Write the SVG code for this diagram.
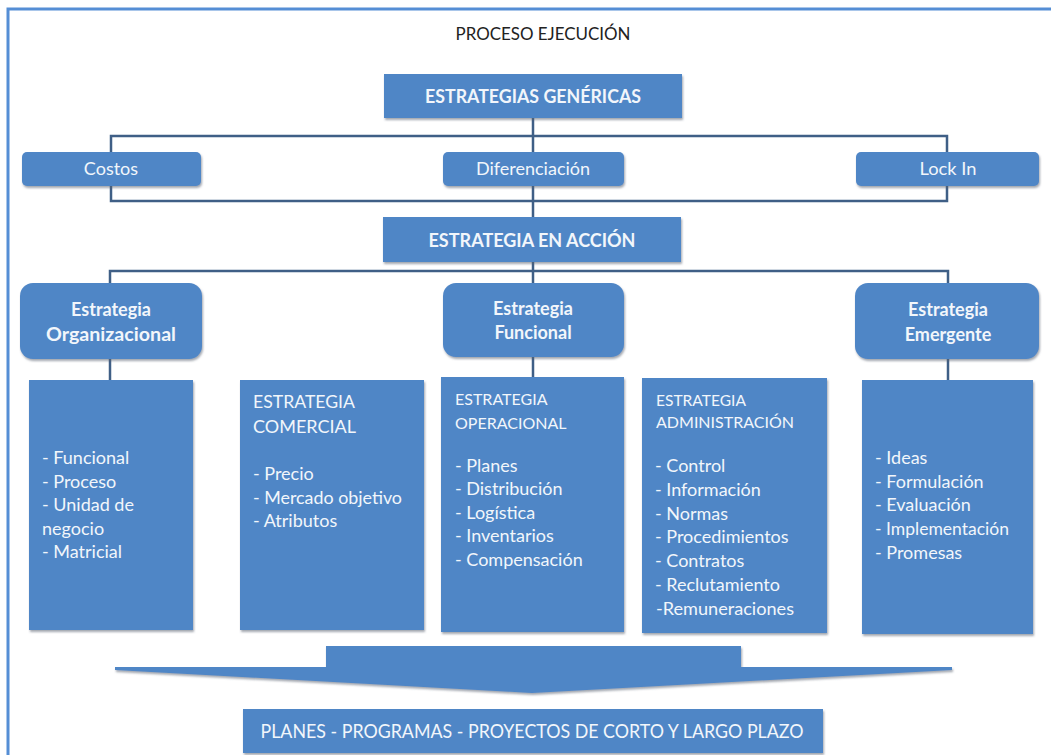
<svg xmlns="http://www.w3.org/2000/svg" width="1051" height="755" viewBox="0 0 1051 755">
<defs>
<filter id="sh" x="-5%" y="-10%" width="110%" height="125%">
<feDropShadow dx="1" dy="2" stdDeviation="1.2" flood-color="#55606e" flood-opacity="0.55"/>
</filter>
<style>
.box{fill:#4f86c6;filter:url(#sh);}
.ln{fill:none;stroke:#3f5f86;stroke-width:2.5;}
text{font-family:Lato,"Liberation Sans",sans-serif;fill:#f2f6fb;}
.b{font-weight:bold;font-size:18px;text-anchor:middle;}
.m{font-size:18px;text-anchor:middle;}
.it{font-size:18px;}
.h16{font-size:16px;}
</style>
</defs>
<rect width="1051" height="755" fill="#ffffff"/>
<path d="M8 755 V9 H1051" fill="none" stroke="#558ed5" stroke-width="3"/>
<text x="543" y="40" font-size="18" text-anchor="middle" style="fill:#222222" textLength="175" lengthAdjust="spacingAndGlyphs">PROCESO EJECUCIÓN</text>

<g id="connectors">
<path class="ln" d="M533 118 V217"/>
<path class="ln" d="M111 152 V136 H947 V152"/>
<path class="ln" d="M111 186 V201 H947 V186"/>
<path class="ln" d="M533 262 V283"/>
<path class="ln" d="M110 283 V271 H948 V283"/>
<path class="ln" d="M110 359 V380"/>
<path class="ln" d="M533 357 V377"/>
<path class="ln" d="M948 359 V380"/>
</g>

<g id="n-genericas">
<rect class="box" x="384" y="74" width="298" height="44"/>
<text class="b" x="533" y="103" textLength="216" lengthAdjust="spacingAndGlyphs">ESTRATEGIAS GENÉRICAS</text>
</g>
<g id="n-costos">
<rect class="box" x="22" y="152" width="179" height="34" rx="5"/>
<text class="m" x="111" y="175">Costos</text>
</g>
<g id="n-diferenciacion">
<rect class="box" x="443" y="152" width="181" height="34" rx="5"/>
<text class="m" x="533" y="175">Diferenciación</text>
</g>
<g id="n-lockin">
<rect class="box" x="856" y="152" width="183" height="34" rx="5"/>
<text class="m" x="948" y="175" textLength="57" lengthAdjust="spacingAndGlyphs">Lock In</text>
</g>
<g id="n-accion">
<rect class="box" x="383" y="217" width="298" height="45"/>
<text class="b" x="532" y="247" textLength="207" lengthAdjust="spacingAndGlyphs">ESTRATEGIA EN ACCIÓN</text>
</g>
<g id="n-organizacional">
<rect class="box" x="20" y="283" width="182" height="76" rx="13"/>
<text class="b" x="111" y="316">Estrategia</text>
<text class="b" x="111" y="341" textLength="130" lengthAdjust="spacingAndGlyphs">Organizacional</text>
</g>
<g id="n-funcional">
<rect class="box" x="443" y="283" width="181" height="74" rx="13"/>
<text class="b" x="533" y="315">Estrategia</text>
<text class="b" x="533" y="339">Funcional</text>
</g>
<g id="n-emergente">
<rect class="box" x="855" y="283" width="184" height="76" rx="13"/>
<text class="b" x="948" y="316">Estrategia</text>
<text class="b" x="948" y="341">Emergente</text>
</g>

<g id="n-org-list">
<rect class="box" x="29" y="380" width="164" height="250"/>
<text class="it" x="42" y="464">- Funcional</text>
<text class="it" x="42" y="488">- Proceso</text>
<text class="it" x="42" y="511">- Unidad de</text>
<text class="it" x="42" y="535">negocio</text>
<text class="it" x="42" y="558">- Matricial</text>
</g>
<g id="n-comercial">
<rect class="box" x="240" y="380" width="184" height="250"/>
<text class="it" x="253" y="408" textLength="102" lengthAdjust="spacingAndGlyphs">ESTRATEGIA</text>
<text class="it" x="253" y="433">COMERCIAL</text>
<text class="it" x="253" y="480">- Precio</text>
<text class="it" x="253" y="504" textLength="149" lengthAdjust="spacingAndGlyphs">- Mercado objetivo</text>
<text class="it" x="253" y="527">- Atributos</text>
</g>
<g id="n-operacional">
<rect class="box" x="441" y="377" width="183" height="255"/>
<text class="it h16" x="455" y="405">ESTRATEGIA</text>
<text class="it h16" x="455" y="429">OPERACIONAL</text>
<text class="it" x="455" y="472">- Planes</text>
<text class="it" x="455" y="495">- Distribución</text>
<text class="it" x="455" y="519">- Logística</text>
<text class="it" x="455" y="542">- Inventarios</text>
<text class="it" x="455" y="566">- Compensación</text>
</g>
<g id="n-administracion">
<rect class="box" x="642" y="378" width="185" height="255"/>
<text class="it h16" x="656" y="406" textLength="90" lengthAdjust="spacingAndGlyphs">ESTRATEGIA</text>
<text class="it h16" x="656" y="428" textLength="138" lengthAdjust="spacingAndGlyphs">ADMINISTRACIÓN</text>
<text class="it" x="655" y="472">- Control</text>
<text class="it" x="655" y="496">- Información</text>
<text class="it" x="655" y="520">- Normas</text>
<text class="it" x="655" y="543">- Procedimientos</text>
<text class="it" x="655" y="567">- Contratos</text>
<text class="it" x="655" y="591">- Reclutamiento</text>
<text class="it" x="656" y="615" textLength="138" lengthAdjust="spacingAndGlyphs">-Remuneraciones</text>
</g>
<g id="n-emergente-list">
<rect class="box" x="862" y="380" width="171" height="254"/>
<text class="it" x="875" y="464">- Ideas</text>
<text class="it" x="875" y="488">- Formulación</text>
<text class="it" x="875" y="511">- Evaluación</text>
<text class="it" x="875" y="535" textLength="134" lengthAdjust="spacingAndGlyphs">- Implementación</text>
<text class="it" x="875" y="559">- Promesas</text>
</g>

<g id="n-funnel">
<polygon class="box" points="115,667 326,667 326,646 741,646 741,667 952,667 952,670 532,693 115,670"/>
</g>
<g id="n-planes">
<rect class="box" x="243" y="709" width="580" height="44"/>
<text x="532" y="738" font-size="20" text-anchor="middle" textLength="543" lengthAdjust="spacingAndGlyphs">PLANES - PROGRAMAS - PROYECTOS DE CORTO Y LARGO PLAZO</text>
</g>
</svg>
